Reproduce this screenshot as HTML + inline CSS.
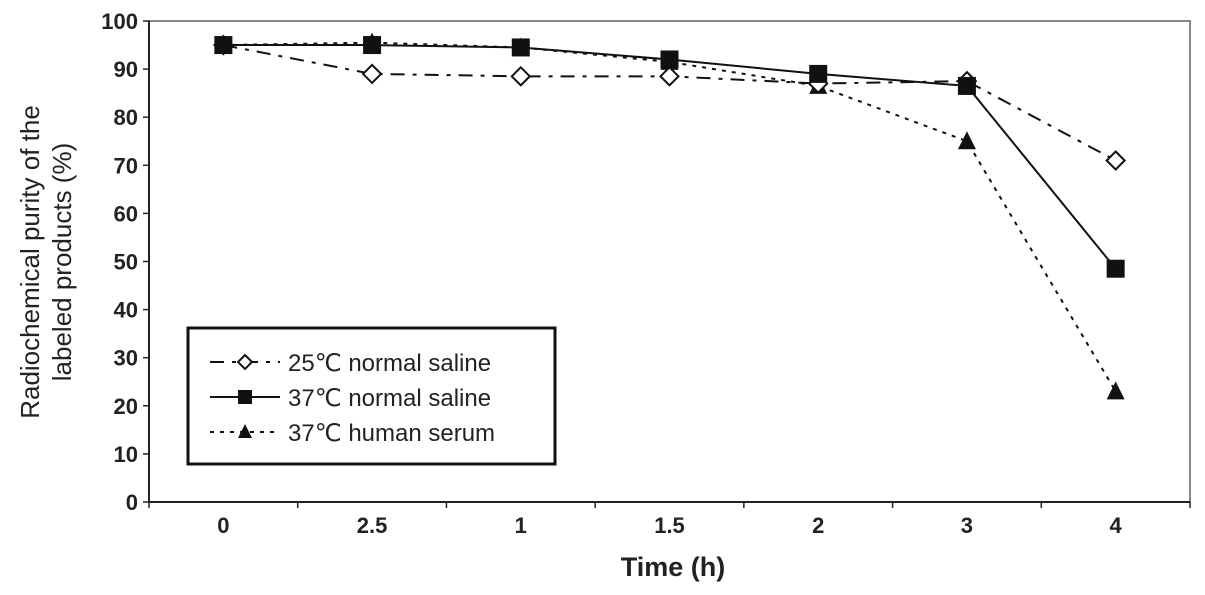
<!DOCTYPE html>
<html><head><meta charset="utf-8"><style>
html,body{margin:0;padding:0;background:#fff;}
svg{display:block;font-family:"Liberation Sans",Arial,sans-serif;}
</style></head><body>
<svg id="chart" width="1205" height="595" viewBox="0 0 1205 595">
<rect x="149" y="21" width="1041" height="481" fill="#fff" stroke="#888" stroke-width="2"/>
<line x1="149" y1="21" x2="149" y2="502" stroke="#222" stroke-width="2"/>
<line x1="149" y1="502" x2="1190" y2="502" stroke="#222" stroke-width="2"/>
<g id="yticks"></g><g id="xticks"></g><g id="series"></g>
<text x="673" y="576" font-size="27" font-weight="bold" text-anchor="middle" fill="#222">Time (h)</text>
<text transform="translate(44,262) rotate(-90)" font-size="26" text-anchor="middle" fill="#222"><tspan x="0" dy="-5">Radiochemical purity of the</tspan><tspan x="0" dy="32">labeled products (%)</tspan></text>
<g>
<rect x="188" y="328" width="367" height="136" fill="#fff" stroke="#111" stroke-width="3"/>
<g id="legend"></g>
</g>
</svg>
<script>
const categories=["0","2.5","1","1.5","2","3","4"];
const ns25=[95,89,88.5,88.5,87,87.5,71];
const ns37=[95,95,94.5,92,89,86.5,48.5];
const serum37=[95,95.5,94.5,91.5,86.5,75,23];
const yTicks=[0,10,20,30,40,50,60,70,80,90,100];
const seriesNames=["25\u2103 normal saline","37\u2103 normal saline","37\u2103 human serum"];

const NS="http://www.w3.org/2000/svg";
const L=149,R=1190,T=21,B=502;
const step=(R-L)/categories.length;
const xs=i=>L+step*(i+0.5);
const ys=v=>B-(v/100)*(B-T);
function mk(tag,attrs,parent){const e=document.createElementNS(NS,tag);for(const k in attrs)e.setAttribute(k,attrs[k]);parent.appendChild(e);return e;}
const yt=document.getElementById('yticks');
yTicks.forEach(v=>{
  const l=mk('line',{x1:L-6,x2:L,y1:ys(v),y2:ys(v),stroke:'#222','stroke-width':1.5},yt);
  
  
  const t=mk('text',{x:L-11,y:ys(v)+8,'font-size':22,'font-weight':'bold','text-anchor':'end',fill:'#222'},yt);
  t.textContent=v;
  
  
});
const xt=document.getElementById('xticks');
for(let i=0;i<=categories.length;i++){
  const l=mk('line',{x1:L+step*i,x2:L+step*i,y1:B,y2:B+6,stroke:'#222','stroke-width':1.5},xt);
  
  
}
categories.forEach((c,i)=>{
  const t=mk('text',{x:xs(i),y:B+31,'font-size':22,'font-weight':'bold','text-anchor':'middle',fill:'#222'},xt);
  t.textContent=c;
  
  
});
const sg=document.getElementById('series');
const styles=[
 {data:ns25,dash:'14 8 4 8',w:2},
 {data:ns37,dash:'',w:2},
 {data:serum37,dash:'4 6',w:2}
];
function marker(kind,x,y,p,s){
  let e;
  if(kind===0){e=mk('polygon',{points:`${x},${y-s} ${x+s},${y} ${x},${y+s} ${x-s},${y}`,fill:'#fff',stroke:'#111','stroke-width':2},p);}
  else if(kind===1){e=mk('rect',{x:x-s,y:y-s,width:2*s,height:2*s,fill:'#111'},p);}
  else {e=mk('polygon',{points:`${x},${y-s-1} ${x+s},${y+s-1} ${x-s},${y+s-1}`,fill:'#111'},p);}
  return e;
}
styles.forEach((s,k)=>{
  const pts=s.data.map((v,i)=>xs(i)+','+ys(v)).join(' ');
  const pl=mk('polyline',{points:pts,fill:'none',stroke:'#111','stroke-width':s.w,'stroke-dasharray':s.dash},sg);
  
  
});
[2,0,1].forEach(k=>{
  styles[k].data.forEach((v,i)=>{
    const m=marker(k,xs(i),ys(v),sg,k===0?9:9);
    
    
  });
});
const lg=document.getElementById('legend');
seriesNames.forEach((n,k)=>{
  const y=362+k*35;
  const l=mk('line',{x1:210,x2:280,y1:y,y2:y,stroke:'#111','stroke-width':2,'stroke-dasharray':styles[k].dash},lg);
  
  
  const m=marker(k,245,y,lg,7);
  
  
  const t=mk('text',{x:288,y:y+9,'font-size':24,fill:'#222'},lg);
  t.textContent=n;
  
  
});
</script>
</body></html>
